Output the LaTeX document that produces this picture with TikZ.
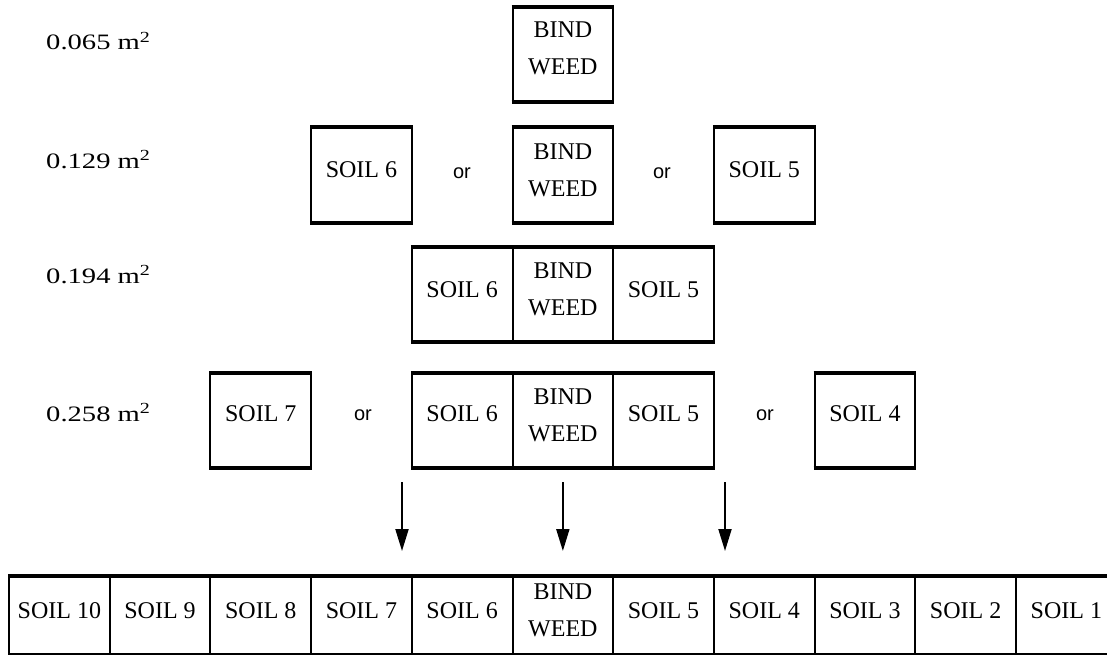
\documentclass[tikz,border=0pt]{standalone}
\usepackage{fontspec}
\setmainfont{Liberation Serif}
\newfontfamily\labfont{Liberation Serif}[FakeStretch=1.3]
\newfontfamily\orfont{Liberation Sans}
\usetikzlibrary{arrows.meta,calc}
\begin{document}
\begin{tikzpicture}[x=1pt,y=-1pt,
  cellbox/.style={draw, line width=2pt, minimum width=100.7pt, minimum height=#1, inner sep=0pt},
  cellbox/.default=93pt,
  celltext/.style={font=\fontsize{24}{37}\selectfont, align=center, inner sep=0pt},
  ortext/.style={font=\orfont\fontsize{20}{24}\selectfont, inner sep=0pt},
  areatext/.style={font=\labfont\fontsize{22}{26}\selectfont, anchor=base west, inner sep=0pt},
  thickedge/.style={line width=4pt},
  downarrow/.style={line width=2pt, -{Triangle[length=22pt,width=13pt]}}]
\useasboundingbox (0,0) rectangle (1107,655);

% area labels
\node[areatext] (l1) at (46,50) {0.065 m\textsuperscript{2}};
\node[areatext] (l2) at (46,168) {0.129 m\textsuperscript{2}};
\node[areatext] (l3) at (46,283) {0.194 m\textsuperscript{2}};
\node[areatext] (l4) at (46,421) {0.258 m\textsuperscript{2}};

% row 1
\node[cellbox] (r1bw) at (562.85,54.5) {};
\node[celltext] (r1bwt) at ($(r1bw.center)+(0,-6)$) {BIND\\WEED};
\draw[thickedge] (r1bw.north west) -- (r1bw.north east);
\draw[thickedge] (r1bw.south west) -- (r1bw.south east);

% row 2
\node[cellbox] (r2s6) at (361.45,175) {};
\node[cellbox] (r2bw) at (562.85,175) {};
\node[cellbox] (r2s5) at (764.25,175) {};
\node[celltext] (r2s6t) at ($(r2s6.center)+(0,-5)$) {SOIL 6};
\node[celltext] (r2bwt) at ($(r2bw.center)+(0,-5)$) {BIND\\WEED};
\node[celltext] (r2s5t) at ($(r2s5.center)+(0,-5)$) {SOIL 5};
\node[ortext] (r2or1) at (462,173) {or};
\node[ortext] (r2or2) at (662,173) {or};
\foreach \n in {r2s6,r2bw,r2s5}{
  \draw[thickedge] (\n.north west) -- (\n.north east);
  \draw[thickedge] (\n.south west) -- (\n.south east);
}

% row 3
\node[cellbox] (r3s6) at (462.15,294.5) {};
\node[cellbox] (r3bw) at (562.85,294.5) {};
\node[cellbox] (r3s5) at (663.55,294.5) {};
\node[celltext] (r3s6t) at ($(r3s6.center)+(0,-5)$) {SOIL 6};
\node[celltext] (r3bwt) at ($(r3bw.center)+(0,-5)$) {BIND\\WEED};
\node[celltext] (r3s5t) at ($(r3s5.center)+(0,-5)$) {SOIL 5};
\draw[thickedge] (r3s6.north west) -- (r3s5.north east);
\draw[thickedge] (r3s6.south west) -- (r3s5.south east);

% row 4
\node[cellbox] (r4s7) at (260.75,420) {};
\node[cellbox] (r4s6) at (462.15,420) {};
\node[cellbox] (r4bw) at (562.85,420) {};
\node[cellbox] (r4s5) at (663.55,420) {};
\node[cellbox] (r4s4) at (864.95,420) {};
\node[celltext] (r4s7t) at ($(r4s7.center)+(0,-6)$) {SOIL 7};
\node[celltext] (r4s6t) at ($(r4s6.center)+(0,-6)$) {SOIL 6};
\node[celltext] (r4bwt) at ($(r4bw.center)+(0,-5)$) {BIND\\WEED};
\node[celltext] (r4s5t) at ($(r4s5.center)+(0,-6)$) {SOIL 5};
\node[celltext] (r4s4t) at ($(r4s4.center)+(0,-6)$) {SOIL 4};
\node[ortext] (r4or1) at (363,415) {or};
\node[ortext] (r4or2) at (765,415) {or};
\draw[thickedge] (r4s7.north west) -- (r4s7.north east);
\draw[thickedge] (r4s7.south west) -- (r4s7.south east);
\draw[thickedge] (r4s6.north west) -- (r4s5.north east);
\draw[thickedge] (r4s6.south west) -- (r4s5.south east);
\draw[thickedge] (r4s4.north west) -- (r4s4.north east);
\draw[thickedge] (r4s4.south west) -- (r4s4.south east);

% arrows
\coordinate (a1s) at (402,482);
\coordinate (a1e) at (402,551);
\coordinate (a2s) at (562.85,482);
\coordinate (a2e) at (562.85,551);
\coordinate (a3s) at (725,482);
\coordinate (a3e) at (725,551);
\draw[downarrow] (a1s) -- (a1e);
\draw[downarrow] (a2s) -- (a2e);
\draw[downarrow] (a3s) -- (a3e);

% bottom row
\foreach \lab [count=\i from 0] in {SOIL 10,SOIL 9,SOIL 8,SOIL 7,SOIL 6,{BIND\\WEED},SOIL 5,SOIL 4,SOIL 3,SOIL 2,SOIL 1}{
  \node[cellbox=77pt] (b\i) at ({59.35+100.7*\i},615.5) {};
  \node[celltext] (bt\i) at ($(b\i.center)+(0,-5)$) {\lab};
}
\draw[thickedge] (b0.north west) -- (b10.north east);
\draw[thickedge] (b0.south west) -- (b10.south east);
\end{tikzpicture}
\end{document}
